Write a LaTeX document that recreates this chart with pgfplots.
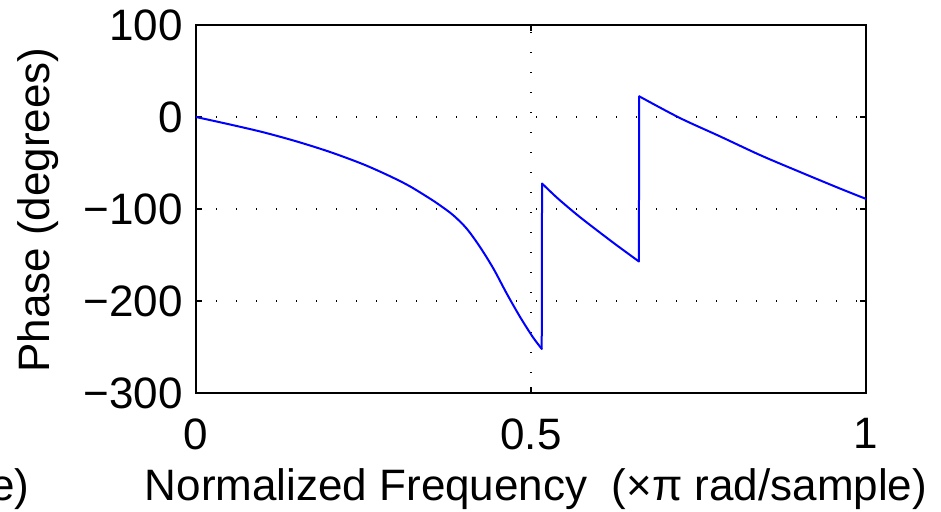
\documentclass[border=0pt]{standalone}
\usepackage{fontspec}
\setmainfont{Liberation Sans}
\usepackage{pgfplots}
\pgfplotsset{compat=1.18}
\begin{document}
\begin{tikzpicture}
\begin{axis}[
  at={(0pt,0pt)}, anchor=south west,
  scale only axis, width=335pt, height=184pt,
  xmin=0, xmax=1, ymin=-300, ymax=100,
  xtick={0,0.5,1}, xticklabels={0,0.5,1},
  ytick={-300,-200,-100,0,100}, yticklabels={−300,−200,−100,0,100},
  tick align=inside, major tick length=3pt,
  every tick/.style={black, line width=0.9pt},
  axis line style={black, line width=0.9pt},
  grid=major,
  major grid style={black, line width=0.6pt, dash pattern=on 0.6pt off 9.4pt},
  every tick label/.append style={font=\fontsize{22}{26}\selectfont},
  x tick label style={inner sep=0pt, yshift=-12.5pt},
  y tick label style={inner sep=0pt, xshift=-6.5pt},
  /pgf/number format/assume math mode=true,
]
\addplot[blue, line width=1pt, line cap=round, line join=round, smooth, tension=0.5] coordinates {
(0,0) (0.05,-8) (0.10,-16.5) (0.15,-26.5) (0.20,-38) (0.25,-51.5)
(0.29,-64.5) (0.319,-75.2) (0.349,-88.6) (0.364,-95.9) (0.384,-106.8)
(0.404,-121.3) (0.424,-141.4) (0.444,-164.9)
(0.464,-192.2) (0.484,-217.7) (0.503,-239.5) (0.516,-252)
};
\addplot[blue, line width=1pt, line cap=round] coordinates {(0.516,-252) (0.5165,-72.3)};
\addplot[blue, line width=1pt, line cap=round, line join=round, smooth, tension=0.5] coordinates {
(0.5165,-72.3) (0.54,-88.5) (0.57,-107)
(0.60,-124) (0.63,-140.5) (0.661,-157)
};
\addplot[blue, line width=1pt, line cap=round] coordinates {(0.661,-157) (0.6615,22.5)};
\addplot[blue, line width=1pt, line cap=round, line join=round, smooth, tension=0.5] coordinates {
(0.6615,22.5) (0.722,-1)
(0.782,-21) (0.842,-41.4) (0.901,-59.6) (0.961,-77.7) (1.0,-89)
};
\end{axis}
\node[anchor=base, inner sep=0pt, font=\fontsize{22}{26}\selectfont] at (170pt,-53.5pt) {Normalized Frequency\ \ (×π rad/sample)};
\node[anchor=base east, inner sep=0pt, font=\fontsize{22}{26}\selectfont] at (-83pt,-53.5pt) {e)};
\node[rotate=90, anchor=base, inner sep=0pt, font=\fontsize{22}{26}\selectfont] at (-73pt,91.5pt) {Phase (degrees)};
\pgfresetboundingbox
\path[use as bounding box] (-98pt,-59pt) rectangle (372.5pt,196.5pt);
\end{tikzpicture}
\end{document}
